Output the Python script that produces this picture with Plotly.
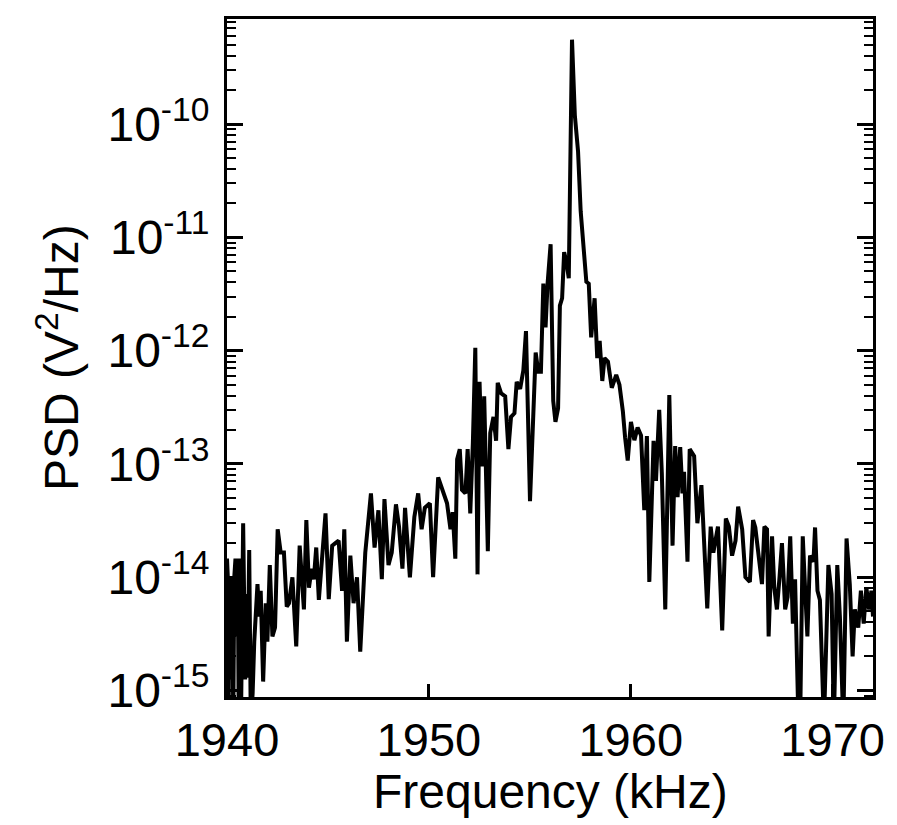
import plotly.graph_objects as go

freq_khz = [
    1940.00, 1940.04, 1940.08, 1940.12, 1940.17, 1940.21, 1940.26, 1940.31, 1940.36, 1940.42,
    1940.47, 1940.53, 1940.58, 1940.63, 1940.70, 1940.80, 1940.90, 1940.95, 1941.02, 1941.10,
    1941.18, 1941.27, 1941.35, 1941.45, 1941.51, 1941.60, 1941.67, 1941.79, 1941.92, 1942.00,
    1942.12, 1942.25, 1942.38, 1942.51, 1942.66, 1942.82, 1942.96, 1943.07, 1943.24, 1943.43,
    1943.60, 1943.81, 1943.93, 1944.06, 1944.19, 1944.30, 1944.42, 1944.55, 1944.71, 1944.88,
    1945.04, 1945.21, 1945.37, 1945.53, 1945.70, 1945.81, 1945.94, 1946.11, 1946.27, 1946.44,
    1946.60, 1946.85, 1947.13, 1947.31, 1947.50, 1947.67, 1947.80, 1948.00, 1948.16, 1948.37,
    1948.52, 1948.69, 1948.82, 1949.06, 1949.28, 1949.47, 1949.64, 1949.80, 1950.05, 1950.21,
    1950.46, 1950.74, 1950.90, 1951.07, 1951.18, 1951.31, 1951.40, 1951.53, 1951.64, 1951.81,
    1951.92, 1952.05, 1952.18, 1952.30, 1952.41, 1952.51, 1952.63, 1952.74, 1952.92, 1953.04,
    1953.20, 1953.33, 1953.41, 1953.58, 1953.78, 1953.94, 1954.07, 1954.24, 1954.35, 1954.52,
    1954.68, 1954.81, 1955.01, 1955.29, 1955.42, 1955.55, 1955.67, 1955.78, 1955.88, 1956.03,
    1956.16, 1956.27, 1956.40, 1956.49, 1956.60, 1956.70, 1956.81, 1956.93, 1957.09, 1957.23,
    1957.39, 1957.52, 1957.67, 1957.80, 1957.92, 1958.04, 1958.21, 1958.34, 1958.46, 1958.59,
    1958.70, 1958.87, 1959.06, 1959.28, 1959.44, 1959.61, 1959.72, 1959.85, 1960.01, 1960.18,
    1960.34, 1960.51, 1960.67, 1960.80, 1960.92, 1961.13, 1961.25, 1961.41, 1961.54, 1961.71,
    1961.91, 1962.07, 1962.20, 1962.32, 1962.45, 1962.56, 1962.64, 1962.81, 1962.92, 1963.14,
    1963.30, 1963.50, 1963.79, 1963.96, 1964.09, 1964.32, 1964.53, 1964.71, 1964.86, 1965.02,
    1965.19, 1965.32, 1965.52, 1965.68, 1965.90, 1966.06, 1966.17, 1966.34, 1966.50, 1966.62,
    1966.75, 1966.83, 1967.00, 1967.11, 1967.24, 1967.37, 1967.49, 1967.65, 1967.77, 1967.90,
    1968.03, 1968.14, 1968.31, 1968.39, 1968.52, 1968.64, 1968.75, 1968.88, 1969.05, 1969.13,
    1969.25, 1969.37, 1969.57, 1969.79, 1969.95, 1970.06, 1970.23, 1970.36, 1970.53, 1970.69,
    1970.85, 1970.99, 1971.10, 1971.27, 1971.40, 1971.54, 1971.67, 1971.81, 1971.92, 1972.00,
]

psd_v2_per_hz = [
    1.46e-14, 1.0e-14, 6e-16, 1.0e-14, 3.6e-15, 1.25e-15, 1.0e-14, 5e-16, 1.0e-14, 1.46e-14,
    3.0e-15, 1.46e-14, 6e-16, 1.46e-14, 7e-16, 3.0e-14, 1.25e-15, 7.1e-15, 1.3e-15, 1.74e-14,
    5e-16, 9.5e-16, 2.7e-15, 7.1e-15, 8.7e-15, 4.5e-15, 7.6e-15, 1.2e-15, 5.9e-15, 2.7e-15,
    1.28e-14, 3.0e-15, 3.6e-15, 2.65e-14, 1.65e-14, 1.65e-14, 5.5e-15, 5.9e-15, 1.0e-14, 2.45e-15,
    1.9e-14, 5.2e-15, 3.2e-14, 8.1e-15, 1.19e-14, 9.6e-15, 1.83e-14, 6.3e-15, 1.37e-14, 3.66e-14,
    6.4e-15, 1.9e-14, 2.0e-14, 2.1e-14, 7.6e-15, 2.65e-14, 2.7e-15, 1.55e-14, 5.9e-15, 1.0e-14,
    2.2e-15, 1.65e-14, 5.5e-14, 1.83e-14, 3.9e-14, 9.6e-15, 4.9e-14, 1.28e-14, 1.65e-14, 4.4e-14,
    2.8e-14, 1.19e-14, 4.1e-14, 1.0e-14, 3.4e-14, 5.5e-14, 2.65e-14, 4.1e-14, 4.5e-14, 1.0e-14,
    7.6e-14, 5.5e-14, 4.5e-14, 2.65e-14, 3.75e-14, 1.46e-14, 1.1e-13, 1.35e-13, 5.9e-14, 5.5e-14,
    1.35e-13, 3.66e-14, 1.54e-13, 1.06e-12, 1.06e-14, 5.3e-13, 9.5e-14, 3.95e-13, 1.7e-14, 1.88e-13,
    2.6e-13, 1.6e-13, 5.2e-13, 4.2e-13, 3.95e-13, 1.35e-13, 2.6e-13, 2.8e-13, 5.3e-13, 4.6e-13,
    6.7e-13, 1.49e-12, 4.7e-14, 9.6e-13, 6.5e-13, 6.5e-13, 3.9e-12, 1.6e-12, 3.9e-12, 8.7e-12,
    3.6e-13, 2.35e-13, 3.1e-13, 2.5e-12, 2.9e-12, 7.4e-12, 6.1e-12, 4.35e-12, 5.55e-10, 1.2e-10,
    5.7e-11, 1.7e-11, 7.4e-12, 4.05e-12, 3.9e-12, 1.31e-12, 2.9e-12, 8.6e-13, 1.22e-12, 5.4e-13,
    8.6e-13, 8.0e-13, 4.7e-13, 6.1e-13, 5.0e-13, 2.9e-13, 1.71e-13, 1.07e-13, 2.35e-13, 1.62e-13,
    2.1e-13, 1.78e-13, 3.9e-14, 1.76e-13, 9.1e-15, 1.6e-13, 7.1e-14, 3.0e-13, 8.2e-14, 5.2e-15,
    4.05e-13, 1.9e-14, 1.44e-13, 5.1e-14, 1.41e-13, 5.5e-14, 8.5e-14, 1.37e-14, 1.35e-13, 1.17e-13,
    3.0e-14, 6.5e-14, 5.3e-15, 2.8e-14, 1.65e-14, 2.8e-14, 3.4e-15, 3.3e-14, 2.8e-14, 1.55e-14,
    2.1e-14, 4.2e-14, 2.65e-14, 1.0e-14, 9.1e-15, 3.2e-14, 2.75e-14, 1.37e-14, 8.7e-15, 2.8e-14,
    2.65e-14, 3.0e-15, 2.3e-14, 8.1e-15, 5.2e-15, 1.0e-14, 2.0e-14, 5.2e-15, 6.7e-15, 2.3e-14,
    3.9e-15, 9.6e-15, 5e-16, 5e-16, 2.3e-14, 7.6e-15, 3.0e-15, 1.55e-14, 1.37e-14, 2.75e-14,
    7.6e-15, 6.3e-15, 5e-16, 1.28e-14, 7.1e-15, 5e-16, 1.28e-14, 4.5e-15, 5e-16, 2.2e-14,
    8.7e-15, 2.0e-15, 5.2e-15, 3.6e-15, 7.6e-15, 3.9e-15, 8.1e-15, 5.2e-15, 7.6e-15, 4.5e-15,
]

x_tick_vals = [1940, 1950, 1960, 1970]
x_tick_text = ["1940", "1950", "1960", "1970"]
y_tick_vals = [1e-15, 1e-14, 1e-13, 1e-12, 1e-11, 1e-10]
y_tick_text = ["10<sup>-15</sup>", "10<sup>-14</sup>", "10<sup>-13</sup>",
               "10<sup>-12</sup>", "10<sup>-11</sup>", "10<sup>-10</sup>"]
x_title = "Frequency (kHz)"
y_title = "PSD (V<sup>2</sup>/Hz)"

FONT = "Liberation Sans, Arial, Helvetica, sans-serif"

fig = go.Figure()
fig.add_trace(go.Scatter(
    x=freq_khz, y=psd_v2_per_hz, mode="lines",
    line=dict(color="black", width=4),
    showlegend=False, hoverinfo="skip",
))

fig.update_layout(
    width=897, height=825,
    margin=dict(l=227, r=20, t=19, b=128, pad=0),
    paper_bgcolor="white", plot_bgcolor="white",
    font=dict(family=FONT, color="black", size=46),
    xaxis=dict(
        range=[1940, 1972],
        tickmode="array", tickvals=x_tick_vals, ticktext=x_tick_text,
        ticks="inside", ticklen=13, tickwidth=2.5, tickcolor="black",
        showline=True, linewidth=3, linecolor="black", mirror=True,
        showgrid=False, zeroline=False,
        tickfont=dict(size=47, family=FONT, color="black"),
    ),
    yaxis=dict(
        type="log", range=[-15.057, -9.073],
        tickmode="array", tickvals=y_tick_vals, ticktext=y_tick_text,
        ticks="inside", ticklen=16, tickwidth=2.5, tickcolor="black",
        showline=True, linewidth=3, linecolor="black", mirror="allticks",
        showgrid=False, zeroline=False, ticklabelstandoff=5,
        tickfont=dict(size=48, family=FONT, color="black"),
        minor=dict(ticks="inside", ticklen=9, tickwidth=2, tickcolor="black",
                   dtick="D1", showgrid=False),
    ),
    annotations=[
        dict(text=x_title, xref="paper", yref="paper", x=0.5, y=-0.14,
             xanchor="center", yanchor="middle", showarrow=False,
             font=dict(size=48, family=FONT, color="black")),
        dict(text=y_title, xref="paper", yref="paper", x=-0.2615, y=0.5,
             xanchor="center", yanchor="middle", textangle=-90, showarrow=False,
             font=dict(size=48, family=FONT, color="black")),
    ],
)

fig.write_html("out.html")
